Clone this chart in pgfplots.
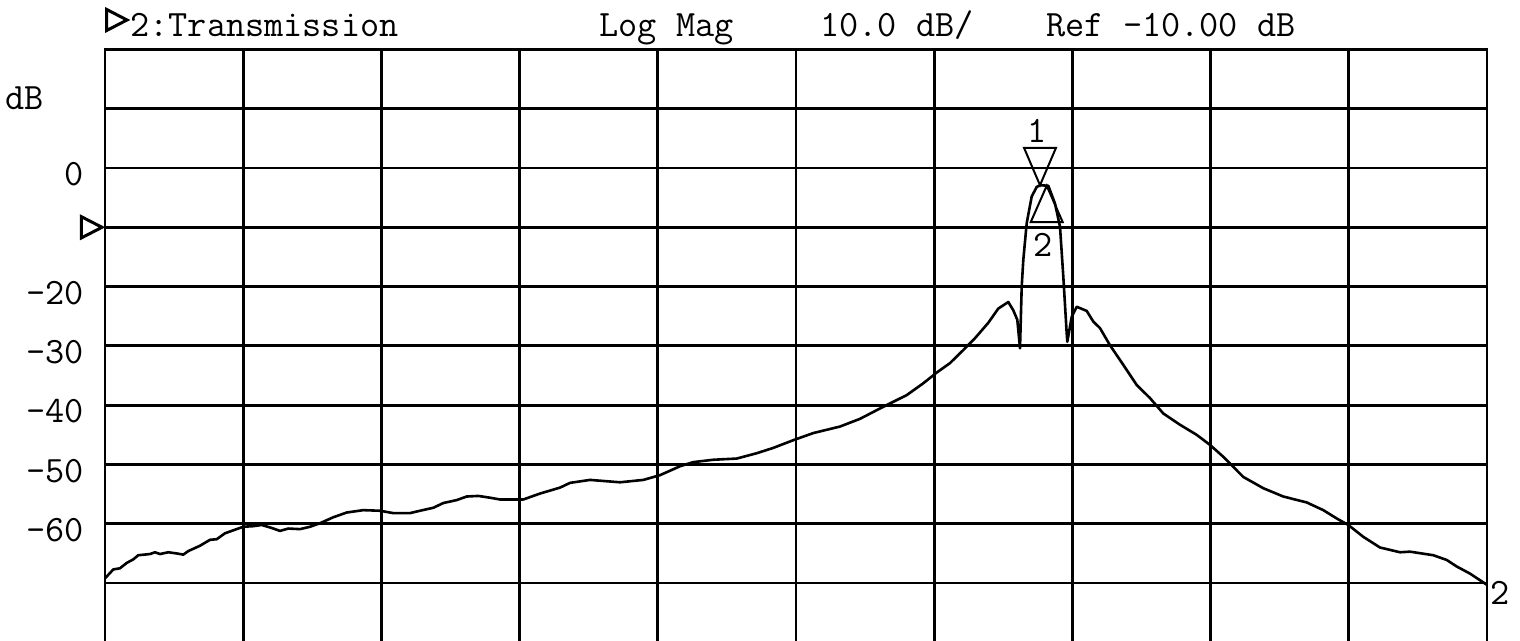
\documentclass[border=0pt]{standalone}
\usepackage{fontspec}
\usepackage{pgfplots}
\pgfplotsset{compat=1.18}
\newcommand{\trfont}{\ttfamily\fontsize{18.6pt}{22pt}\selectfont}
\pgfdeclareplotmark{mkdown}{\pgfpathmoveto{\pgfqpoint{0pt}{0pt}}\pgfpathlineto{\pgfqpoint{-8pt}{18.7pt}}\pgfpathlineto{\pgfqpoint{8pt}{18.7pt}}\pgfpathclose\pgfusepathqstroke}
\pgfdeclareplotmark{mkup}{\pgfpathmoveto{\pgfqpoint{0pt}{0pt}}\pgfpathlineto{\pgfqpoint{-8pt}{-18.2pt}}\pgfpathlineto{\pgfqpoint{8pt}{-18.2pt}}\pgfpathclose\pgfusepathqstroke}
\pgfdeclareplotmark{mkright}{\pgfpathmoveto{\pgfqpoint{-1.5pt}{0pt}}\pgfpathlineto{\pgfqpoint{-11.8pt}{5.3pt}}\pgfpathlineto{\pgfqpoint{-11.8pt}{-5.3pt}}\pgfpathclose\pgfusepathqstroke}
\begin{document}
\begin{tikzpicture}
\begin{axis}[
  at={(0,0)}, anchor=south west,
  scale only axis, width=691pt, height=296.5pt,
  xmin=0, xmax=1382, ymin=-80, ymax=20,
  clip=false,
  xtick={0,138.2,276.4,414.6,552.8,691,829.2,967.4,1105.6,1243.8,1382},
  xticklabels={},
  ytick={-80,-70,-60,-50,-40,-30,-20,-10,0,10,20},
  yticklabels={{},{},-60,-50,-40,-30,-20,{},0,{},{}},
  major tick length=0pt,
  grid=major,
  major grid style={black, line width=1.4pt},
  axis line style={black, line width=1.4pt},
  yticklabel style={font=\trfont, anchor=east, inner sep=0pt, xshift=-10.5pt, yshift=-3.2pt},
]
\addplot[black, line width=1.3pt, line join=round, mark=none] coordinates {
(0,-69.2) (8.3,-67.7) (15,-67.5) (21.7,-66.6) (28.3,-66.0) (33.3,-65.3) (45,-65.1) (50,-64.8) (55,-65.1) (63.3,-64.8) (71.7,-65.0) (78.3,-65.2) (83.3,-64.6) (95,-63.7) (105,-62.7) (111.7,-62.6) (120,-61.6) (128.3,-61.1) (138.3,-60.5) (148.3,-60.4) (156.7,-60.2) (166.7,-60.7) (175,-61.2) (183.3,-60.8) (195,-60.9) (205,-60.5) (215,-59.9) (228.3,-58.9) (241.7,-58.1) (258.3,-57.7) (275,-57.8) (288.3,-58.2) (305,-58.2) (315,-57.8) (328.3,-57.3) (338.3,-56.5) (351.7,-56.0) (361.7,-55.4) (373.3,-55.3) (385,-55.6) (395,-55.9) (418.3,-55.9) (435,-54.9) (455,-53.9) (465,-53.1) (485,-52.6) (515,-53.0) (538.3,-52.6) (555,-51.8) (575,-50.3) (588.3,-49.6) (608.3,-49.2) (631.7,-49.0) (651.7,-48.1) (668.3,-47.2) (688.3,-45.9) (708.3,-44.7) (735,-43.6) (755,-42.3) (773.3,-40.7) (785,-39.7) (801.7,-38.3) (818.3,-36.3) (831.7,-34.5) (845,-32.9) (858.3,-30.7) (870,-28.7) (883.3,-26.1) (893.3,-23.7) (903.3,-22.6) (908.3,-24.0) (912.3,-25.6) (915,-30.4) (916.7,-20.0) (918.3,-15.5) (921.7,-9.3) (926.7,-4.8) (931.7,-3.2) (935,-2.9) (943.3,-3.0) (950,-6.0) (955,-9.9) (958.3,-18.3) (961.7,-27.9) (962.3,-29.3) (966.7,-25.1) (971.7,-23.4) (981.7,-24.1) (988.3,-25.9) (995,-27.0) (1005,-29.9) (1018.3,-33.2) (1031.7,-36.6) (1045,-38.8) (1058.3,-41.4) (1075,-43.3) (1091.7,-45.0) (1105,-46.7) (1118.3,-48.7) (1138.3,-52.1) (1158.3,-54.0) (1178.3,-55.4) (1201.7,-56.4) (1218.3,-57.7) (1231.7,-59.1) (1243.3,-60.2) (1258.3,-62.2) (1275,-64.0) (1295,-64.8) (1305,-64.7) (1328.3,-65.3) (1341.7,-66.1) (1351.7,-67.2) (1365,-68.4) (1382,-70.3)
} node[pos=1, anchor=west, inner sep=0pt, xshift=1pt, yshift=-4pt, font=\trfont] {2};
\addplot[draw=none, mark=mkdown, mark options={solid, black, line width=1pt, line join=miter},
  nodes near coords={1},
  every node near coord/.append style={font=\trfont, anchor=base, inner sep=0pt, yshift=21.5pt, xshift=-1.5pt}]
  coordinates {(935,-2.9)};
\addplot[draw=none, mark=mkup, mark options={solid, black, line width=1pt, line join=miter},
  nodes near coords={2},
  every node near coord/.append style={font=\trfont, anchor=base, inner sep=0pt, yshift=-35.3pt, xshift=-1.7pt}]
  coordinates {(941.7,-3.0)};
\addplot[draw=none, mark=mkright, mark options={solid, black, line width=1.5pt, line join=miter}]
  coordinates {(0,-10)};
\end{axis}
\node[font=\trfont, anchor=base west, inner sep=0pt] at (12.5pt,302.85pt) {2:Transmission};
\node[font=\trfont, anchor=base west, inner sep=0pt] at (247pt,302.85pt) {Log Mag};
\node[font=\trfont, anchor=base west, inner sep=0pt] at (357.5pt,302.85pt) {10.0 dB/};
\node[font=\trfont, anchor=base west, inner sep=0pt] at (470.5pt,302.85pt) {Ref -10.00 dB};
\node[font=\trfont, anchor=base west, inner sep=0pt] at (-50pt,266.2pt) {dB};
\draw[line width=1.5pt, line join=miter] (0.75pt,316.5pt) -- (11pt,311.2pt) -- (0.75pt,305.9pt) -- cycle;
\pgfresetboundingbox
\path[use as bounding box] (-52.5pt,0.7pt) rectangle (707.5pt,321.2pt);
\end{tikzpicture}
\end{document}
